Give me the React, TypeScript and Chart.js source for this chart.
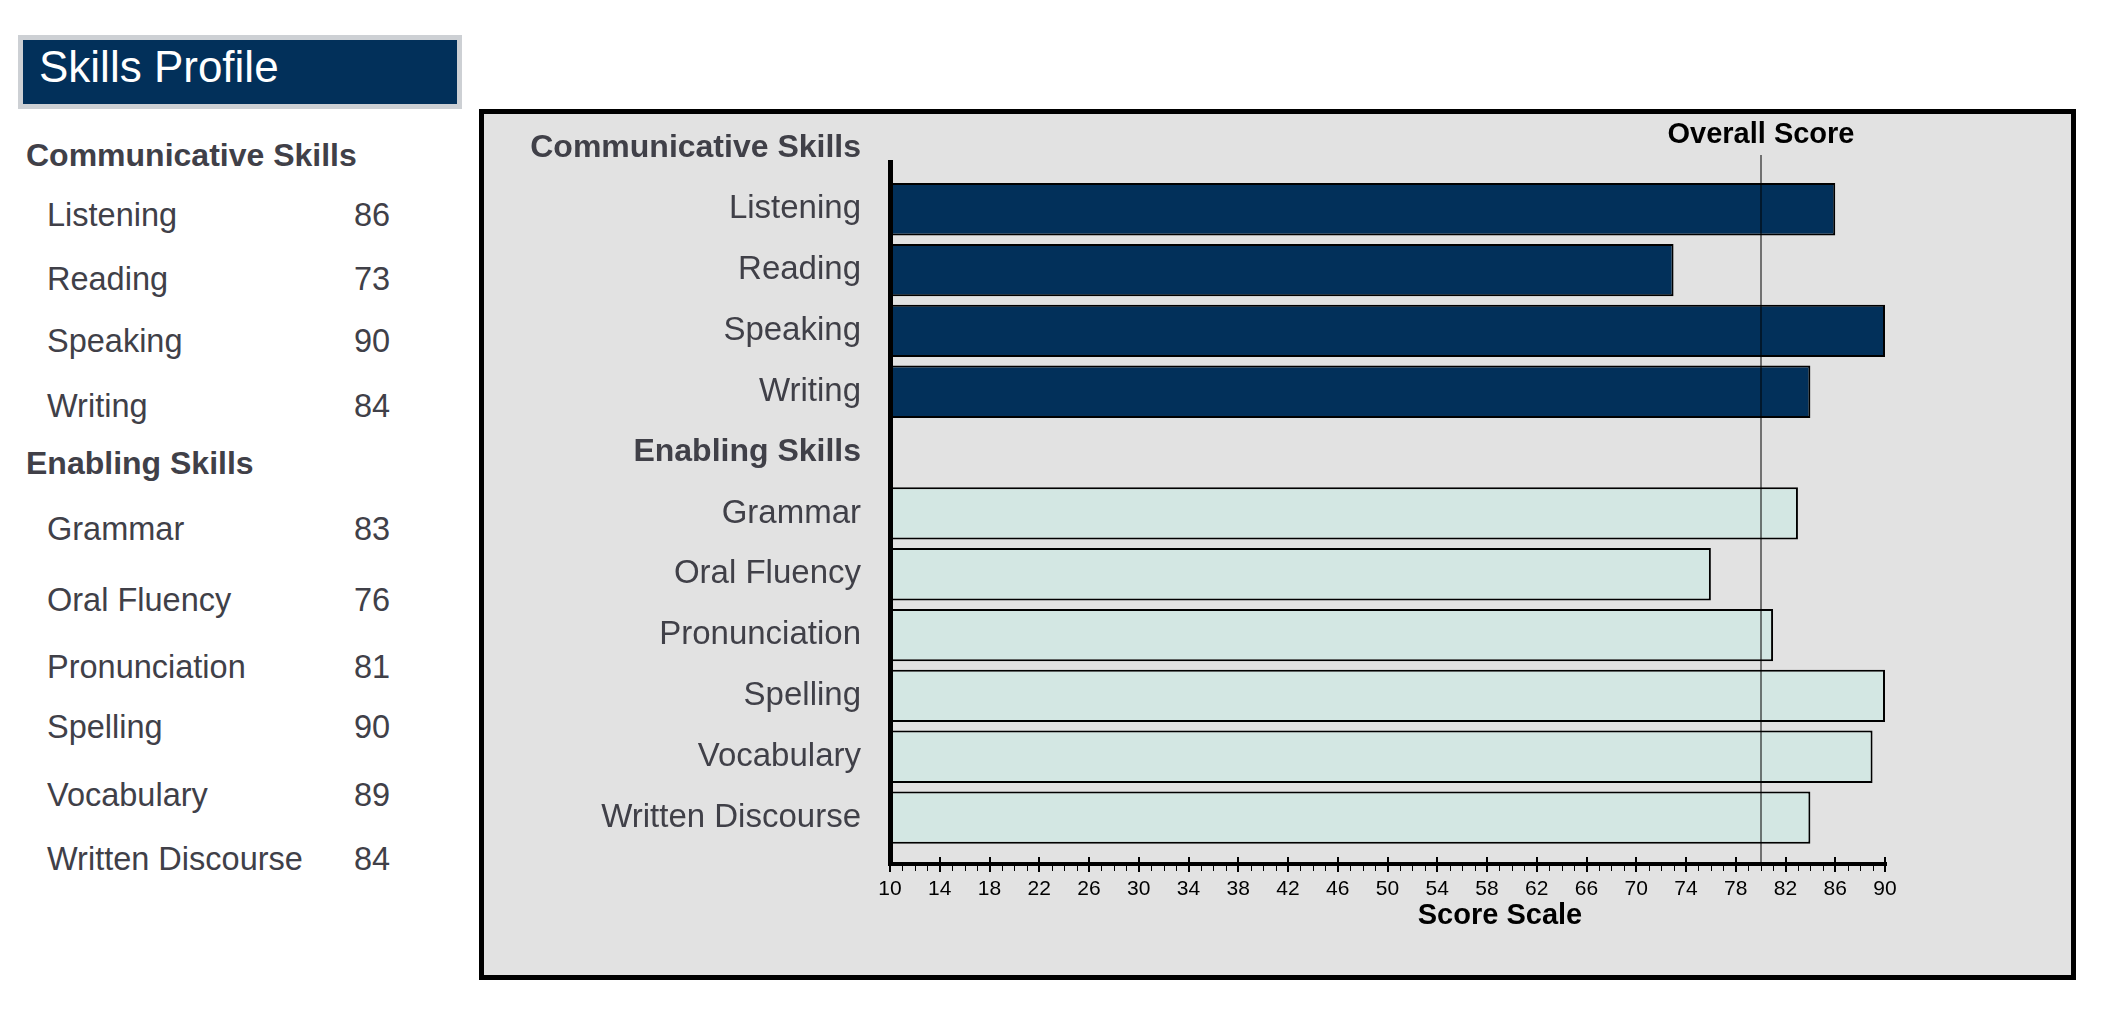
import React, { useEffect, useRef } from "react";
import { Chart, registerables } from "chart.js";

Chart.register(...registerables);

// ---- data ----
const pageTitle = "Skills Profile";
const groupTitles = ["Communicative Skills", "Enabling Skills"];
const communicativeSkills = ["Listening", "Reading", "Speaking", "Writing"];
const communicativeScores = [86, 73, 90, 84];
const enablingSkills = ["Grammar", "Oral Fluency", "Pronunciation", "Spelling", "Vocabulary", "Written Discourse"];
const enablingScores = [83, 76, 81, 90, 89, 84];
const overallScore = 80;
const overallLabel = "Overall Score";
const axisTitle = "Score Scale";
const scaleMin = 10;
const scaleMax = 90;
const scaleStep = 4;

// ---- styles ----
const FONT = "'Liberation Sans', Arial, Helvetica, sans-serif";
const NAVY = "#02305a";
const LIGHT = "#d3e7e3";
const TEXT = "#404048";
const PANEL_BG = "#e2e2e2";

// left list layout (tops of text rows)
const listHeaderTops = [139, 447];
const commRowTops = [199, 263, 325, 390];
const enabRowTops = [513, 584, 651, 711, 779, 843];

const categories = [groupTitles[0], ...communicativeSkills, groupTitles[1], ...enablingSkills];
const commData = [null, ...communicativeScores, null, ...enablingSkills.map(() => null)];
const enabData = [null, ...communicativeSkills.map(() => null), null, ...enablingScores];

const decorPlugin = {
  id: "decor",
  afterDatasetsDraw(chart: any) {
    const { ctx } = chart;
    const x = chart.scales.x;
    const axisY = 864;
    const x0 = x.getPixelForValue(scaleMin);
    const x1 = x.getPixelForValue(scaleMax);
    ctx.save();
    ctx.fillStyle = "#000";
    for (let v = scaleMin; v <= scaleMax; v++) {
      const px = Math.round(x.getPixelForValue(v));
      if ((v - scaleMin) % scaleStep === 0) {
        ctx.fillRect(px - 1, axisY - 7, 2, 15);
      } else {
        ctx.fillRect(px, axisY, 1, 7);
      }
    }
    // axes
    ctx.fillRect(x0 - 2, 160, 5, axisY - 160 + 2);
    ctx.fillRect(x0 - 2, axisY - 2, x1 - x0 + 4, 4);
    // overall score line
    const ox = Math.round(x.getPixelForValue(overallScore));
    ctx.fillRect(ox - 0.5, 155, 1, axisY - 155);
    ctx.font = `bold 29px ${FONT}`;
    ctx.textAlign = "center";
    ctx.textBaseline = "alphabetic";
    ctx.fillText(overallLabel, ox, 143);
    ctx.fillText(axisTitle, 1500, 924);
    ctx.restore();
  },
};

export default function App() {
  const canvasRef = useRef<HTMLCanvasElement | null>(null);

  useEffect(() => {
    if (!canvasRef.current) return;
    const chart = new Chart(canvasRef.current, {
      type: "bar",
      data: {
        labels: categories,
        datasets: [
          {
            label: groupTitles[0],
            data: commData as any,
            backgroundColor: NAVY,
            borderColor: "#000",
            borderWidth: 2,
            borderSkipped: false,
            grouped: false,
            categoryPercentage: 1,
            barPercentage: 0.86,
          },
          {
            label: groupTitles[1],
            data: enabData as any,
            backgroundColor: LIGHT,
            borderColor: "#000",
            borderWidth: 2,
            borderSkipped: false,
            grouped: false,
            categoryPercentage: 1,
            barPercentage: 0.86,
          },
        ],
      },
      options: {
        indexAxis: "y",
        responsive: false,
        animation: false,
        devicePixelRatio: 1,
        layout: { padding: { left: 0, top: 118, right: 233, bottom: 0 } },
        plugins: {
          legend: { display: false },
          tooltip: { enabled: false },
          title: { display: false },
        },
        scales: {
          x: {
            type: "linear",
            min: scaleMin,
            max: scaleMax,
            grid: { display: false, drawTicks: false },
            border: { display: false },
            ticks: {
              stepSize: scaleStep,
              autoSkip: false,
              maxRotation: 0,
              padding: 29,
              color: "#000",
              font: { family: FONT, size: 21 },
            },
            afterFit: (s: any) => {
              s.height = 166;
            },
          },
          y: {
            type: "category",
            offset: true,
            grid: { display: false, drawTicks: false },
            border: { display: false },
            ticks: {
              autoSkip: false,
              padding: 29,
              color: TEXT,
              font: (c: any) =>
                groupTitles.includes(categories[c.index])
                  ? { family: FONT, size: 32, weight: "bold" }
                  : { family: FONT, size: 33, weight: "normal" },
            },
            afterFit: (s: any) => {
              s.width = 890;
            },
          },
        },
      },
      plugins: [decorPlugin],
    });
    return () => chart.destroy();
  }, []);

  const textBase: React.CSSProperties = {
    position: "absolute",
    fontFamily: FONT,
    fontSize: 32.5,
    lineHeight: "33px",
    color: TEXT,
    whiteSpace: "nowrap",
  };
  const headBase: React.CSSProperties = { ...textBase, fontSize: 32, fontWeight: "bold" };

  return (
    <div style={{ position: "absolute", left: 0, top: 0, width: 2118, height: 1014, background: "#fff", overflow: "hidden" }}>
      {/* title box */}
      <div
        style={{
          position: "absolute",
          left: 18,
          top: 35,
          width: 444,
          height: 74,
          boxSizing: "border-box",
          background: NAVY,
          border: "5px solid #cdd0d4",
        }}
      />
      <span style={{ ...textBase, left: 39, top: 45, fontSize: 44, lineHeight: "44px", color: "#fff" }}>{pageTitle}</span>

      {/* left list */}
      <span style={{ ...headBase, left: 26, top: listHeaderTops[0] }}>{groupTitles[0]}</span>
      {communicativeSkills.map((s, i) => (
        <React.Fragment key={s}>
          <span style={{ ...textBase, left: 47, top: commRowTops[i] }}>{s}</span>
          <span style={{ ...textBase, left: 354, top: commRowTops[i] }}>{communicativeScores[i]}</span>
        </React.Fragment>
      ))}
      <span style={{ ...headBase, left: 26, top: listHeaderTops[1] }}>{groupTitles[1]}</span>
      {enablingSkills.map((s, i) => (
        <React.Fragment key={s}>
          <span style={{ ...textBase, left: 47, top: enabRowTops[i] }}>{s}</span>
          <span style={{ ...textBase, left: 354, top: enabRowTops[i] }}>{enablingScores[i]}</span>
        </React.Fragment>
      ))}

      {/* chart panel */}
      <div
        style={{
          position: "absolute",
          left: 479,
          top: 109,
          width: 1597,
          height: 871,
          boxSizing: "border-box",
          background: PANEL_BG,
          border: "5px solid #000",
        }}
      />
      <canvas
        ref={canvasRef}
        width={2118}
        height={1014}
        style={{ position: "absolute", left: 0, top: 0, width: 2118, height: 1014 }}
      />
    </div>
  );
}
